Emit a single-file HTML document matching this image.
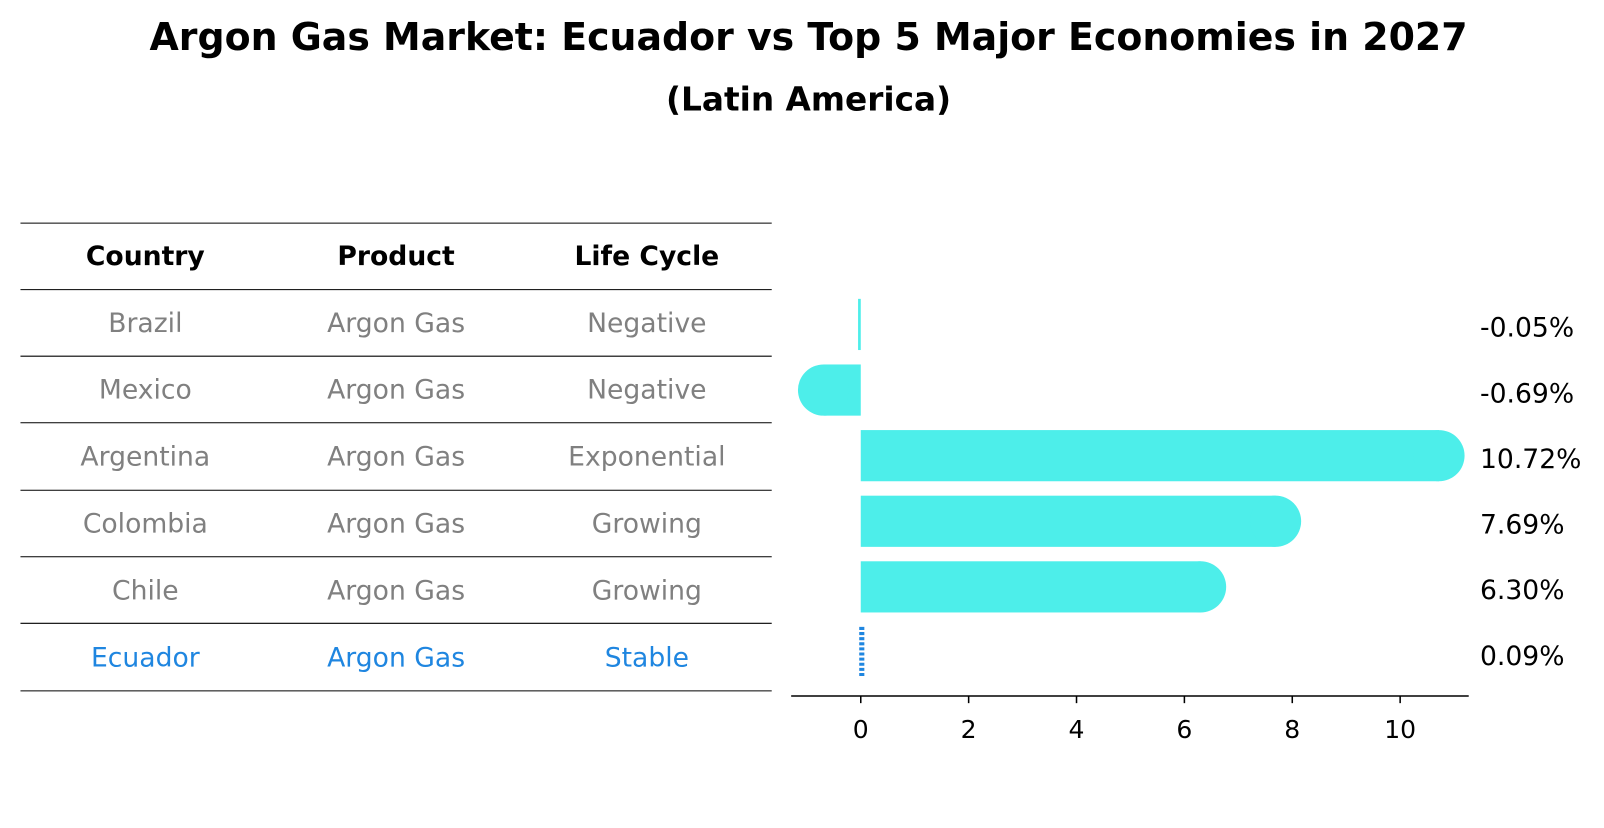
<!DOCTYPE html>
<html><head><meta charset="utf-8"><style>
body{margin:0;background:#fff;font-family:"Liberation Sans","DejaVu Sans",sans-serif}
</style></head><body>
<svg width="1604" height="823" font-family="DejaVu Sans, Liberation Sans, sans-serif">
<g transform="scale(1.0235)">
<text x="790" y="49" text-anchor="middle" font-size="37" font-weight="bold">Argon Gas Market: Ecuador vs Top 5 Major Economies in 2027</text>
<text x="790" y="108" text-anchor="middle" font-size="32" font-weight="bold">(Latin America)</text>
<g id="table"></g>
<g id="bars"></g>
</g>
</svg>
<script>
const countries=["Brazil","Mexico","Argentina","Colombia","Chile","Ecuador"];
const products=["Argon Gas","Argon Gas","Argon Gas","Argon Gas","Argon Gas","Argon Gas"];
const lifecycles=["Negative","Negative","Exponential","Growing","Growing","Stable"];
const values=[-0.05,-0.69,10.72,7.69,6.30,0.09];
const valueLabels=["-0.05%","-0.69%","10.72%","7.69%","6.30%","0.09%"];
const ticks=[0,2,4,6,8,10];
const NS="http://www.w3.org/2000/svg";
function mk(t,a,p,txt){const e=document.createElementNS(NS,t);for(const k in a)e.setAttribute(k,a[k]);if(txt!=null)e.textContent=txt;p.appendChild(e);return e;}
const tb=document.getElementById('table');
const lineY=[218,283,348,413,479,544,609,675];
lineY.forEach((y,i)=>{const l=mk('line',{x1:20,x2:754,y1:y,y2:y,stroke:'#000','stroke-width':1},tb);

});
const colX=[142,387,632];
["Country","Product","Life Cycle"].forEach((h,i)=>{const t=mk('text',{x:colX[i],y:259,'text-anchor':'middle','font-size':26,'font-weight':'bold'},tb,h);

});
countries.forEach((c,r)=>{const y=(lineY[r+1]+lineY[r+2])/2+9;const col=r==5?'#1f86e0':'#808080';
[c,products[r],lifecycles[r]].forEach((s,i)=>{const t=mk('text',{x:colX[i],y:y,'text-anchor':'middle','font-size':26,fill:col},tb,s);

});});
const bg=document.getElementById('bars');
const x0=841,sc=52.7;const X=v=>x0+v*sc;
const rowY=r=>317+r*64.1;
values.forEach((v,r)=>{const cy=rowY(r);
if(r==5){const l=mk('line',{x1:X(0)+1,x2:X(0)+1,y1:cy-25,y2:cy+25,stroke:'#1f86e0','stroke-width':5,'stroke-dasharray':'3 2'},bg);

}
else{const a=Math.min(X(0),X(v)),w=Math.max(Math.abs(X(v)-X(0)),1.5);
const b=mk('rect',{x:a,y:cy-25,width:w,height:50,fill:'#4deeea'},bg);


if(Math.abs(v)>0.3){const c=mk('circle',{cx:X(v),cy:cy,r:25,fill:'#4deeea'},bg);

}}
const t=mk('text',{x:1446,y:cy+12,'font-size':26},bg,valueLabels[r]);

});
const ax=mk('line',{x1:773,x2:1435,y1:680,y2:680,stroke:'#000','stroke-width':1.5},bg);


ticks.forEach(t=>{const l=mk('line',{x1:X(t),x2:X(t),y1:680,y2:687,stroke:'#000','stroke-width':1.5},bg);


const tx=mk('text',{x:X(t),y:721,'text-anchor':'middle','font-size':24.5},bg,t);

});
</script>
</body></html>
